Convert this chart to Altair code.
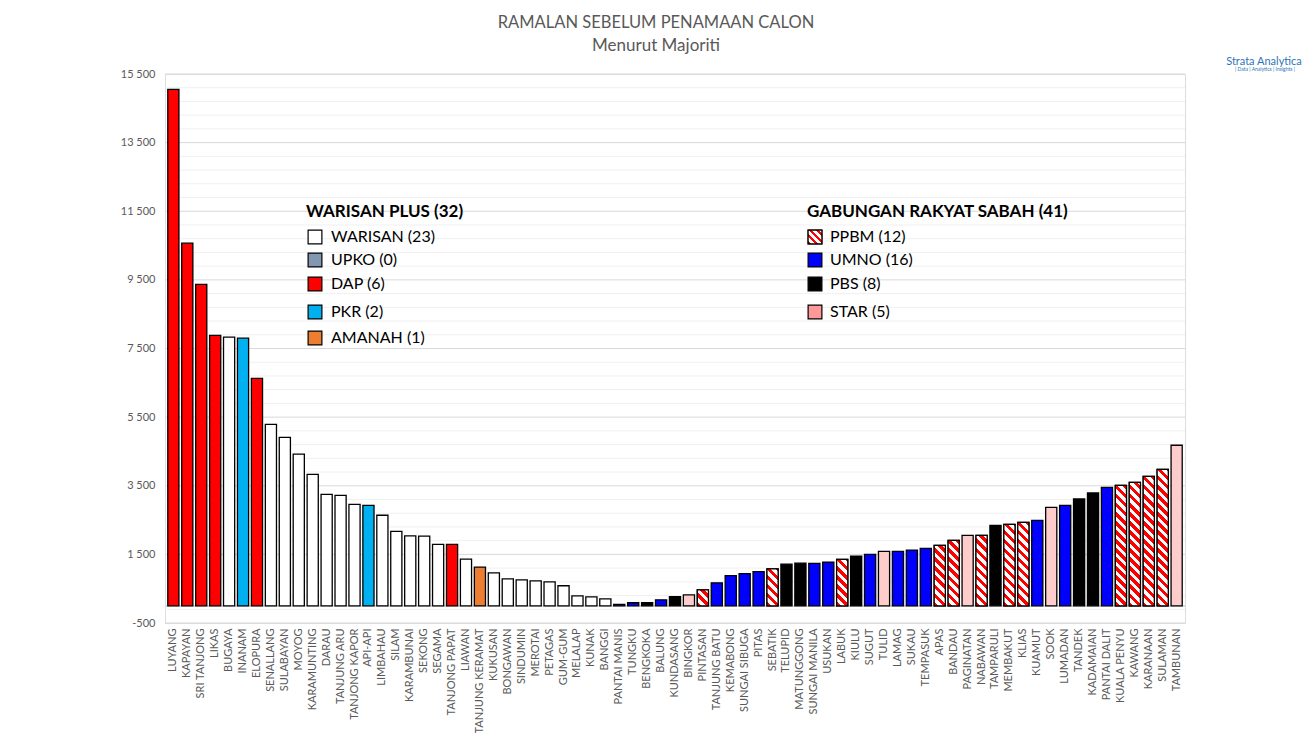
import math
import pandas as pd
import altair as alt

# kerusi (urutan seperti dalam carta)
names = [
    'LUYANG', 'KAPAYAN', 'SRI TANJONG', 'LIKAS', 'BUGAYA', 'INANAM', 'ELOPURA',
    'SENALLANG', 'SULABAYAN', 'MOYOG', 'KARAMUNTING', 'DARAU', 'TANJUNG ARU',
    'TANJONG KAPOR', 'API-API', 'LIMBAHAU', 'SILAM', 'KARAMBUNAI', 'SEKONG',
    'SEGAMA', 'TANJONG PAPAT', 'LIAWAN', 'TANJUNG KERAMAT', 'KUKUSAN',
    'BONGAWAN', 'SINDUMIN', 'MEROTAI', 'PETAGAS', 'GUM-GUM', 'MELALAP', 'KUNAK',
    'BANGGI', 'PANTAI MANIS', 'TUNGKU', 'BENGKOKA', 'BALUNG', 'KUNDASANG',
    'BINGKOR', 'PINTASAN', 'TANJUNG BATU', 'KEMABONG', 'SUNGAI SIBUGA', 'PITAS',
    'SEBATIK', 'TELUPID', 'MATUNGGONG', 'SUNGAI MANILA', 'USUKAN', 'LABUK',
    'KIULU', 'SUGUT', 'TULID', 'LAMAG', 'SUKAU', 'TEMPASUK', 'APAS', 'BANDAU',
    'PAGINATAN', 'NABAWAN', 'TAMPARULI', 'MEMBAKUT', 'KLIAS', 'KUAMUT', 'SOOK',
    'LUMADAN', 'TANDEK', 'KADAMAIAN', 'PANTAI DALIT', 'KUALA PENYU', 'KAWANG',
    'KARANAAN', 'SULAMAN', 'TAMBUNAN',
]

majority = [
    15050, 10570, 9370, 7880, 7830, 7800, 6630,
    5290, 4910, 4420, 3830, 3250, 3220,
    2960, 2930, 2640, 2170, 2040, 2030,
    1790, 1790, 1360, 1130, 960,
    785, 755, 730, 700, 585, 290, 260,
    205, 40, 90, 95, 175, 270,
    320, 465, 670, 880, 940, 995,
    1075, 1215, 1245, 1235, 1270, 1355,
    1445, 1500, 1590, 1590, 1625, 1675, 1765, 1910,
    2055, 2055, 2345, 2375, 2435, 2490, 2870,
    2930, 3115, 3290, 3455, 3510, 3600,
    3775, 3980, 4680,
]

party = [
    'DAP', 'DAP', 'DAP', 'DAP', 'WARISAN', 'PKR', 'DAP',
    'WARISAN', 'WARISAN', 'WARISAN', 'WARISAN', 'WARISAN', 'WARISAN',
    'WARISAN', 'PKR', 'WARISAN', 'WARISAN', 'WARISAN', 'WARISAN',
    'WARISAN', 'DAP', 'WARISAN', 'AMANAH', 'WARISAN',
    'WARISAN', 'WARISAN', 'WARISAN', 'WARISAN', 'WARISAN', 'WARISAN', 'WARISAN',
    'WARISAN', 'UMNO', 'UMNO', 'PBS', 'UMNO', 'PBS',
    'STAR', 'PPBM', 'UMNO', 'UMNO', 'UMNO', 'UMNO',
    'PPBM', 'PBS', 'PBS', 'UMNO', 'UMNO', 'PPBM',
    'PBS', 'UMNO', 'STAR', 'UMNO', 'UMNO', 'UMNO', 'PPBM', 'PPBM',
    'STAR', 'PPBM', 'PBS', 'PPBM', 'PPBM', 'UMNO', 'STAR',
    'UMNO', 'PBS', 'PBS', 'UMNO', 'PPBM', 'PPBM',
    'PPBM', 'PPBM', 'STAR',
]

warisan_plus = ['WARISAN', 'UPKO', 'DAP', 'PKR', 'AMANAH']
grs = ['PPBM', 'UMNO', 'PBS', 'STAR']

bar_colors = {
    'WARISAN': 'white', 'UPKO': '#8497B0', 'DAP': '#FF0000', 'PKR': '#00B0F0',
    'AMANAH': '#ED7D31', 'PPBM': 'white', 'UMNO': '#0000FF', 'PBS': '#000000',
    'STAR': '#FFCCCC',
}
legend_colors = dict(bar_colors, STAR='#FF9999')

df = pd.DataFrame({'kerusi': names, 'majoriti': majority, 'parti': party})

W, H = 1020, 549
Y_MIN, Y_MAX = -500, 15500
FONT = 'Lato'
GREY = '#595959'

pad_in, pad_out = 0.2, 0.2
band_w = W / (len(names) - pad_in + 2 * pad_out) * (1 - pad_in)
px_per_unit = H / (Y_MAX - Y_MIN)


def hatch(w, h, period=6.4):
    # diagonal red/white stripes as a hard-stop linear gradient (bbox units)
    r = h / w
    s = (1 + r) / (1 + r * r)
    n = (w + h) / math.sqrt(2) / period
    half = 0.5 / n
    stops = []
    j = 0
    while j * half < 1:
        c = '#FF0000' if j % 2 == 0 else 'white'
        stops.append(alt.GradientStop(offset=j * half, color=c))
        stops.append(alt.GradientStop(offset=min((j + 1) * half, 1), color=c))
        j += 1
    return alt.LinearGradient(gradient='linear', stops=stops,
                              x1=0, y1=1, x2=s, y2=1 - s * r)


major_vals = list(range(Y_MIN, Y_MAX + 1, 2000))
minor_vals = [v for v in range(Y_MIN, Y_MAX + 1, 400) if v not in major_vals]
grid = pd.DataFrame({'g': minor_vals + major_vals,
                     'kind': ['minor'] * len(minor_vals) + ['major'] * len(major_vals)})

x_enc = alt.X(
    'kerusi:N', sort=names,
    scale=alt.Scale(domain=names, paddingInner=pad_in, paddingOuter=pad_out),
    axis=alt.Axis(title=None, labelAngle=-90, domain=False, ticks=False,
                  labelPadding=5, labelFontSize=11, labelColor=GREY,
                  labelFont=FONT, labelLimit=200),
)
y_scale = alt.Scale(domain=[Y_MIN, Y_MAX], nice=False, zero=False)
y_axis = alt.Axis(
    title=None, values=major_vals, domain=False, ticks=False, grid=False,
    labelExpr="replace(replace(format(datum.value, ','), ',', ' '), '\u2212', '-')",
    labelOverlap=False,
    labelPadding=10, labelFontSize=11, labelColor=GREY, labelFont=FONT,
    minExtent=152, maxExtent=152,
)
y_enc = alt.Y('majoriti:Q', scale=y_scale, axis=y_axis)

grid_lines = alt.Chart(grid).mark_rule(strokeWidth=1).encode(
    y=alt.Y('g:Q', scale=y_scale, axis=y_axis),
    color=alt.Color('kind:N', legend=None,
                    scale=alt.Scale(domain=['minor', 'major'],
                                    range=['#f0f0f0', '#d9d9d9'])),
)

zero_line = alt.Chart(df).mark_rule(color='#d9d9d9', strokeWidth=1.5).encode(
    y=alt.datum(0)
)

bars = alt.Chart(df).mark_bar(stroke='black', strokeWidth=1.3).encode(
    x=x_enc,
    y=y_enc,
    fill=alt.Fill('parti:N', legend=None,
                  scale=alt.Scale(domain=list(bar_colors),
                                  range=list(bar_colors.values()))),
)

hatched = []
for n, v, p in zip(names, majority, party):
    if p != 'PPBM':
        continue
    hatched.append(
        alt.Chart(df).transform_filter(alt.datum.kerusi == n)
        .mark_bar(fill=hatch(band_w, v * px_per_unit), stroke='black',
                  strokeWidth=1.3)
        .encode(x=x_enc, y=y_enc)
    )

main = alt.layer(grid_lines, zero_line, bars, *hatched).resolve_scale(
    color='independent', fill='independent')

# legend boxes (pixel positions inside the plot)
counts = {p: party.count(p) for p in bar_colors}
row_y = [163, 186, 210, 238, 264]
groups = [
    ('WARISAN PLUS', warisan_plus, 141, 150, 166),
    ('GABUNGAN RAKYAT SABAH', grs, 642, 650, 665),
]
leg_rows, head_rows = [], []
for title, members, tx, sx, lx in groups:
    head_rows.append({'t': f'{title} ({sum(counts[m] for m in members)})',
                      'px': tx, 'py': 138})
    for i, m in enumerate(members):
        leg_rows.append({'t': f'{m} ({counts[m]})', 'fill': legend_colors[m],
                         'sx': sx, 'lx': lx, 'py': row_y[i], 'parti': m})
leg = pd.DataFrame(leg_rows)
heads = pd.DataFrame(head_rows)

sw = alt.Chart(leg).mark_square(size=190, stroke='black', strokeWidth=1.2,
                                opacity=1).encode(
    x=alt.X('sx:Q', scale=None, axis=None),
    y=alt.Y('py:Q', scale=None, axis=None),
    fill=alt.Fill('fill:N', scale=None),
)
sw_hatch = alt.Chart(leg).transform_filter(alt.datum.parti == 'PPBM').mark_square(
    size=190, stroke='black', strokeWidth=1.2, opacity=1,
    fill=hatch(13.8, 13.8, period=5.0),
).encode(
    x=alt.X('sx:Q', scale=None, axis=None),
    y=alt.Y('py:Q', scale=None, axis=None),
)
leg_text = alt.Chart(leg).mark_text(align='left', baseline='middle',
                                    fontSize=16, font=FONT, color='black').encode(
    x=alt.X('lx:Q', scale=None, axis=None),
    y=alt.Y('py:Q', scale=None, axis=None),
    text='t:N',
)
head_text = alt.Chart(heads).mark_text(align='left', baseline='middle',
                                       fontSize=17, fontWeight='bold', font=FONT,
                                       color='black').encode(
    x=alt.X('px:Q', scale=None, axis=None),
    y=alt.Y('py:Q', scale=None, axis=None),
    text='t:N',
)

logo = pd.DataFrame({
    't': ['Strata Analytica', '|  Data  |  Analytics  |  Insights  |'],
    'px': [1099, 1100], 'py': [-12, -5], 'fs': [11, 5],
})
logo_text = alt.Chart(logo).mark_text(baseline='middle', font=FONT,
                                      color='#2E75B6').encode(
    x=alt.X('px:Q', scale=None, axis=None),
    y=alt.Y('py:Q', scale=None, axis=None),
    text='t:N',
    size=alt.Size('fs:Q', scale=None, legend=None),
)

legend_layer = alt.layer(sw, sw_hatch, leg_text, head_text, logo_text)

chart = alt.layer(main, legend_layer).resolve_scale(
    x='independent', y='independent', color='independent', fill='independent'
).properties(
    width=W, height=H,
    padding={'left': 5, 'top': 6, 'right': 0, 'bottom': 0},
    title=alt.TitleParams(
        text='RAMALAN SEBELUM PENAMAAN CALON', subtitle='Menurut Majoriti',
        fontSize=16.5, subtitleFontSize=17, font=FONT, subtitleFont=FONT,
        fontWeight='normal', color=GREY, subtitleColor=GREY,
        anchor='middle', dx=-19, subtitlePadding=7, offset=2,
    ),
).configure_view(stroke=None).configure(background='white')

chart.save('out.html', embed_options={'renderer': 'svg', 'actions': False})
